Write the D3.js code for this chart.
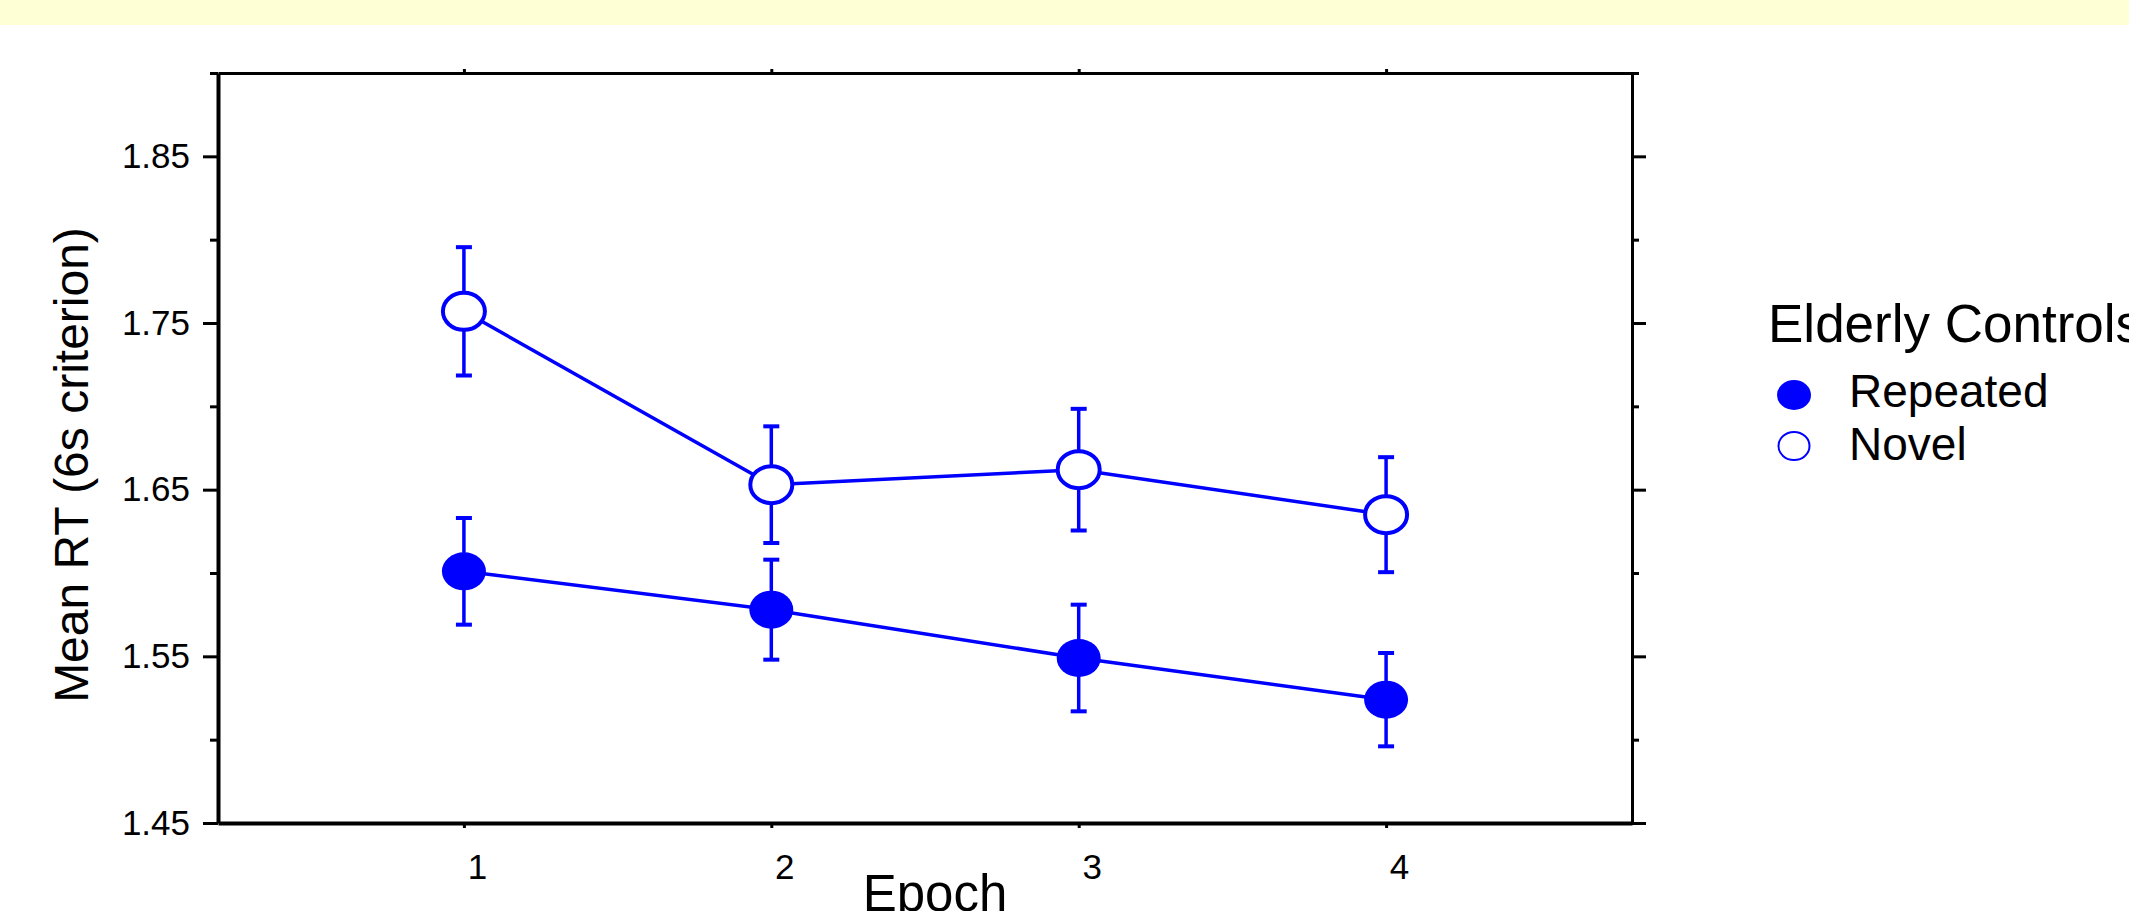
<!DOCTYPE html>
<html>
<head>
<meta charset="utf-8">
<script src="https://cdn.jsdelivr.net/npm/d3@7"></script>
<style>
  body { margin: 0; background: #fff; }
  svg { display: block; font-family: "Liberation Sans", Arial, sans-serif; }
</style>
</head>
<body>
<div id="chart"></div>
<script>
// Data
const epochs = [1, 2, 3, 4];
const repeatedMean = [1.601, 1.578, 1.549, 1.524];
const repeatedErr = [0.032, 0.030, 0.032, 0.028];
const novelMean = [1.757, 1.653, 1.662, 1.635];
const novelErr = [0.0385, 0.035, 0.0365, 0.0345];
const majorTicks = [1.45, 1.55, 1.65, 1.75, 1.85];
const minorTicks = [1.50, 1.60, 1.70, 1.80, 1.90];
const legendTitle = 'Elderly Controls';
const seriesNames = ['Repeated', 'Novel'];

const blue = '#0000ff';
const W = 2129, H = 911;
const margin = { top: 73, right: 497, bottom: 88, left: 218 };

const svg = d3.select('#chart').append('svg')
    .attr('width', W)
    .attr('height', H);

// pale yellow band at the top
svg.append('rect')
    .attr('x', 0).attr('y', 0)
    .attr('width', W).attr('height', 25)
    .attr('fill', '#ffffd6');

const x = d3.scaleLinear().domain([0.2, 4.8]).range([margin.left, W - margin.right]);
const y = d3.scaleLinear().domain([1.45, 1.90]).range([H - margin.bottom, margin.top]);

const fmt = d3.format('.2f');

// left axis with labels
const leftAxis = svg.append('g')
    .attr('transform', `translate(${margin.left},0)`)
    .call(d3.axisLeft(y).tickValues(majorTicks).tickFormat(fmt).tickSize(15).tickSizeOuter(0).tickPadding(13));
leftAxis.select('.domain').attr('stroke-width', 4);
leftAxis.selectAll('.tick line').attr('stroke-width', 3);
leftAxis.selectAll('.tick text').attr('font-size', 35).attr('font-family', '"Liberation Sans", Arial, sans-serif').attr('fill', '#000');

svg.append('g')
    .attr('transform', `translate(${margin.left},0)`)
    .call(d3.axisLeft(y).tickValues(minorTicks).tickFormat('').tickSize(8).tickSizeOuter(0))
    .call(g => g.select('.domain').remove())
    .selectAll('.tick line').attr('stroke-width', 3);

// right axis, ticks only
const rightAxis = svg.append('g')
    .attr('transform', `translate(${W - margin.right},0)`)
    .call(d3.axisRight(y).tickValues(majorTicks).tickFormat('').tickSize(14).tickSizeOuter(0));
rightAxis.select('.domain').attr('stroke-width', 3);
rightAxis.selectAll('.tick line').attr('stroke-width', 3);

svg.append('g')
    .attr('transform', `translate(${W - margin.right},0)`)
    .call(d3.axisRight(y).tickValues(minorTicks).tickFormat('').tickSize(7).tickSizeOuter(0))
    .call(g => g.select('.domain').remove())
    .selectAll('.tick line').attr('stroke-width', 3);

// bottom axis
const bottomAxis = svg.append('g')
    .attr('transform', `translate(0,${H - margin.bottom})`)
    .call(d3.axisBottom(x).tickValues(epochs).tickFormat(d3.format('d')).tickSize(5).tickSizeOuter(0).tickPadding(26));
bottomAxis.select('.domain').attr('stroke-width', 4);
bottomAxis.selectAll('.tick line').attr('stroke-width', 3);
bottomAxis.selectAll('.tick text')
    .attr('font-size', 35)
    .attr('font-family', '"Liberation Sans", Arial, sans-serif')
    .attr('fill', '#000')
    .attr('dx', 13);

// top axis
const topAxis = svg.append('g')
    .attr('transform', `translate(0,${margin.top})`)
    .call(d3.axisTop(x).tickValues(epochs).tickFormat('').tickSize(4).tickSizeOuter(0));
topAxis.select('.domain').attr('stroke-width', 3);
topAxis.selectAll('.tick line').attr('stroke-width', 3);

// axis titles
svg.append('text')
    .attr('transform', `translate(88,465) rotate(-90)`)
    .attr('text-anchor', 'middle')
    .attr('font-size', 48)
    .text('Mean RT (6s criterion)');

// x title sits at the bottom edge, clipped like in the original
svg.append('text')
    .attr('x', 935)
    .attr('y', 911)
    .attr('text-anchor', 'middle')
    .attr('font-size', 51)
    .text('Epoch');

// series
const series = [
    { name: seriesNames[0], mean: repeatedMean, err: repeatedErr, filled: true },
    { name: seriesNames[1], mean: novelMean, err: novelErr, filled: false }
];

const line = d3.line()
    .x(d => x(d.epoch))
    .y(d => y(d.mean));

series.forEach(s => {
    const pts = epochs.map((e, i) => ({ epoch: e, mean: s.mean[i], err: s.err[i] }));
    const g = svg.append('g');

    g.append('path')
        .datum(pts)
        .attr('fill', 'none')
        .attr('stroke', blue)
        .attr('stroke-width', 3.5)
        .attr('d', line);

    const bars = g.selectAll('.err')
        .data(pts)
        .enter()
        .append('g');

    bars.append('line')
        .attr('x1', d => x(d.epoch)).attr('x2', d => x(d.epoch))
        .attr('y1', d => y(d.mean + d.err)).attr('y2', d => y(d.mean - d.err))
        .attr('stroke', blue).attr('stroke-width', 3.5);

    [1, -1].forEach(sign => {
        bars.append('line')
            .attr('x1', d => x(d.epoch) - 8).attr('x2', d => x(d.epoch) + 8)
            .attr('y1', d => y(d.mean + sign * d.err)).attr('y2', d => y(d.mean + sign * d.err))
            .attr('stroke', blue).attr('stroke-width', 4);
    });

    g.selectAll('ellipse')
        .data(pts)
        .enter()
        .append('ellipse')
        .attr('cx', d => x(d.epoch))
        .attr('cy', d => y(d.mean))
        .attr('rx', s.filled ? 22 : 21)
        .attr('ry', s.filled ? 19 : 18.5)
        .attr('fill', s.filled ? blue : '#fff')
        .attr('stroke', blue)
        .attr('stroke-width', s.filled ? 0 : 4);
});

// legend
const legend = svg.append('g');
legend.append('text')
    .attr('x', 1768)
    .attr('y', 342)
    .attr('font-size', 53)
    .text(legendTitle);

series.forEach((s, i) => {
    const cy = 395 + i * 51;
    legend.append('ellipse')
        .attr('cx', 1794).attr('cy', cy)
        .attr('rx', s.filled ? 17 : 15.5)
        .attr('ry', s.filled ? 15 : 14)
        .attr('fill', s.filled ? blue : '#fff')
        .attr('stroke', blue)
        .attr('stroke-width', s.filled ? 0 : 2);
    legend.append('text')
        .attr('x', 1849)
        .attr('y', cy + 12 + i * 2)
        .attr('font-size', 46)
        .text(s.name);
});
</script>
</body>
</html>
